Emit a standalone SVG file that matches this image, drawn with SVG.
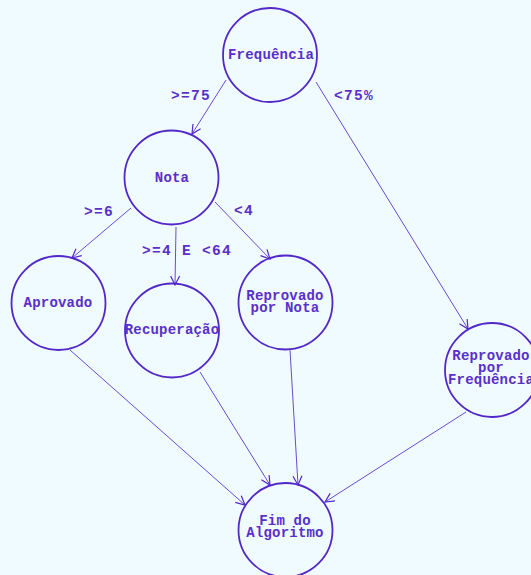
<svg xmlns="http://www.w3.org/2000/svg" width="531" height="575" viewBox="0 0 531 575">
<style>
.bg{fill:#f0fbff}
.node circle{fill:none;stroke:#5228c8;stroke-width:1.8}
.node text{font-family:"Liberation Mono","DejaVu Sans Mono",monospace;font-weight:bold;font-size:14px;fill:#5a2fc9;text-anchor:middle;letter-spacing:0.2px}
.edges line{stroke:#5a35d0;stroke-width:0.9}
.lbl{font-family:"Liberation Mono","DejaVu Sans Mono",monospace;font-weight:bold;font-size:14.5px;fill:#5a2fc9;letter-spacing:1.3px}
</style>
<defs>
<marker id="arr" markerUnits="userSpaceOnUse" markerWidth="14" markerHeight="14" refX="10" refY="5" orient="auto" viewBox="0 0 14 10">
<path d="M1,0.5 L10,5 L1,9.5" fill="none" stroke="#5228c8" stroke-width="1.2"/>
</marker>
</defs>
<rect class="bg" x="0" y="0" width="531" height="575"/>
<g id="connectors" class="edges">
<line x1="226" y1="80" x2="192" y2="134" marker-end="url(#arr)"/>
<line x1="316" y1="82" x2="468" y2="329" marker-end="url(#arr)"/>
<line x1="131" y1="208" x2="72" y2="258" marker-end="url(#arr)"/>
<line x1="176" y1="227" x2="175" y2="285" marker-end="url(#arr)"/>
<line x1="215" y1="202" x2="270" y2="259" marker-end="url(#arr)"/>
<line x1="70" y1="350" x2="245" y2="505" marker-end="url(#arr)"/>
<line x1="200" y1="372" x2="270" y2="485" marker-end="url(#arr)"/>
<line x1="290" y1="350" x2="298" y2="485" marker-end="url(#arr)"/>
<line x1="466" y1="412" x2="325" y2="502" marker-end="url(#arr)"/>
</g>
<g id="labels">
<text class="lbl" x="171" y="100">&gt;=75</text>
<text class="lbl" x="334" y="100">&lt;75%</text>
<text class="lbl" x="84" y="216">&gt;=6</text>
<text class="lbl" x="234" y="215">&lt;4</text>
<text class="lbl" x="142" y="255">&gt;=4 E &lt;64</text>
</g>
<g id="n-frequencia" class="node">
<circle cx="270" cy="55" r="47"/>
<text x="271" y="59">Frequência</text>
</g>
<g id="n-nota" class="node">
<circle cx="171.5" cy="177.5" r="47"/>
<text x="172" y="182">Nota</text>
</g>
<g id="n-aprovado" class="node">
<circle cx="58.5" cy="303" r="47"/>
<text x="58" y="307">Aprovado</text>
</g>
<g id="n-recuperacao" class="node">
<circle cx="172" cy="330.5" r="47"/>
<text x="172" y="334">Recuperação</text>
</g>
<g id="n-reprovado-nota" class="node">
<circle cx="285.5" cy="302.5" r="47"/>
<text x="285" y="300">Reprovado</text>
<text x="285" y="312">por Nota</text>
</g>
<g id="n-reprovado-freq" class="node">
<circle cx="492" cy="370" r="47"/>
<text x="491" y="360">Reprovado</text>
<text x="491" y="372">por</text>
<text x="491" y="384">Frequência</text>
</g>
<g id="n-fim" class="node">
<circle cx="285.5" cy="530" r="47"/>
<text x="285" y="525">Fim do</text>
<text x="285" y="537">Algoritmo</text>
</g>
</svg>
